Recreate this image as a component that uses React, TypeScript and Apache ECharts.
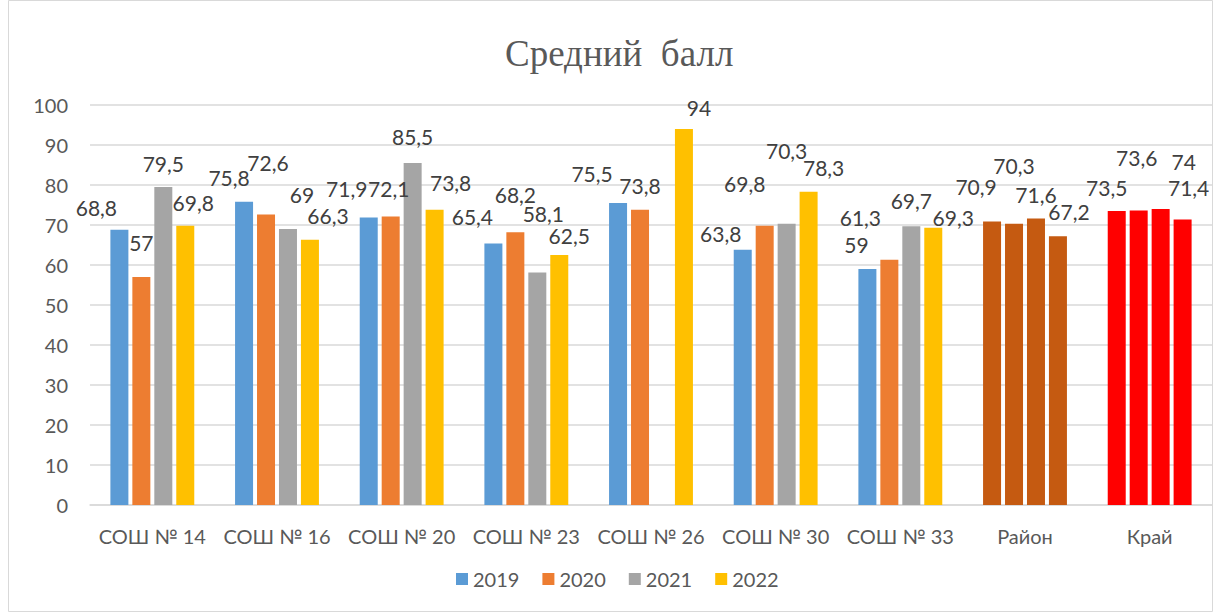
import React, { useEffect, useRef } from "react";
import * as echarts from "echarts";

const categories = ["СОШ № 14", "СОШ № 16", "СОШ № 20", "СОШ № 23", "СОШ № 26", "СОШ № 30", "СОШ № 33", "Район", "Край"];
const years = ["2019", "2020", "2021", "2022"];
const v2019 = [68.8, 75.8, 71.9, 65.4, 75.5, 63.8, 59, 70.9, 73.5];
const v2020 = [57, 72.6, 72.1, 68.2, 73.8, 69.8, 61.3, 70.3, 73.6];
const v2021 = [79.5, 69, 85.5, 58.1, null, 70.3, 69.7, 71.6, 74];
const v2022 = [69.8, 66.3, 73.8, 62.5, 94, 78.3, 69.3, 67.2, 71.4];
const yTicks = [0, 10, 20, 30, 40, 50, 60, 70, 80, 90, 100];

const seriesColors = ["#5B9BD5", "#ED7D31", "#A5A5A5", "#FFC000"];
const specialColors: Record<string, string> = { "Район": "#C55A11", "Край": "#FF0000" };

// label placement (as in the reference's manually placed labels): [dx, height of label centre above bar top]
const labelPlacement: (number[] | null)[][] = [
  [[-23, 23], [-15, 25], [-22, 29], [-21, 27], [-26, 30], [-22, 17], [-11, 25], [-16, 35], [-10, 24]],
  [[0, 35], [2, 53], [-2, 29], [0, 38], [0, 25], [-20, 43], [-29, 43], [0, 59], [-2, 54]],
  [[0, 24], [14, 35], [0, 27], [6, 60], null, [0, 74], [0, 26], [0, 25], [23, 48]],
  [[8, 24], [18, 25], [16, 28], [10, 20], [15, 22], [15, 25], [20, 11], [11, 25], [6, 32]],
];

export default function App() {
  const ref = useRef<HTMLDivElement>(null);
  useEffect(() => {
    if (!ref.current) return;
    const chart = echarts.init(ref.current, null, { renderer: "svg" });
    const all = [v2019, v2020, v2021, v2022];
    const font = "Lato, 'Liberation Sans', sans-serif";
    chart.setOption({
      animation: false,
      backgroundColor: "#ffffff",
      title: {
        text: "Средний  балл",
        left: 500,
        top: 30,
        textStyle: { fontFamily: "'Liberation Serif', 'DejaVu Serif', serif", fontSize: 37, fontWeight: "normal", color: "#595959" },
      },
      legend: {
        bottom: 19,
        left: 451,
        itemWidth: 12,
        itemHeight: 12,
        itemGap: 23,
        icon: "rect",
        textStyle: { fontFamily: font, fontSize: 20, color: "#595959" },
        data: years,
      },
      grid: { left: 90, right: 2, top: 105, bottom: 108, containLabel: false },
      xAxis: {
        type: "category",
        data: categories,
        axisTick: { show: false },
        axisLine: { lineStyle: { color: "#D9D9D9", width: 1.5 } },
        axisLabel: { fontFamily: font, fontSize: 20, color: "#595959", margin: 21, interval: 0 },
      },
      yAxis: {
        type: "value",
        min: yTicks[0],
        max: yTicks[yTicks.length - 1],
        interval: 10,
        axisLine: { show: false },
        axisTick: { show: false },
        splitLine: { lineStyle: { color: "#D9D9D9", width: 1.5 } },
        axisLabel: { fontFamily: font, fontSize: 20, color: "#595959", margin: 22 },
      },
      graphic: [
        {
          type: "rect",
          shape: { x: 8.5, y: 0.5, width: 1204, height: 611 },
          style: { fill: "none", stroke: "#D9D9D9", lineWidth: 1 },
          silent: true,
        },
      ],
      series: years.map((y, i) => ({
        name: y,
        type: "bar",
        barWidth: 18,
        barGap: "22%",
        itemStyle: { color: seriesColors[i] },
        label: {
          show: true,
          position: "top",
          distance: 0,
          fontFamily: font,
          fontSize: 21,
          color: "#404040",
          formatter: (p: any) => String(p.value).replace(".", ","),
        },
        data: all[i].map((v, j) => {
          const pl = labelPlacement[i][j];
          return {
            value: v,
            itemStyle: specialColors[categories[j]] ? { color: specialColors[categories[j]] } : undefined,
            label: pl ? { offset: [pl[0], -(pl[1] - 11)] } : undefined,
          };
        }),
      })),
    });
    return () => chart.dispose();
  }, []);
  return <div ref={ref} style={{ position: "fixed", left: 0, top: 0, width: 1214, height: 613 }} />;
}
